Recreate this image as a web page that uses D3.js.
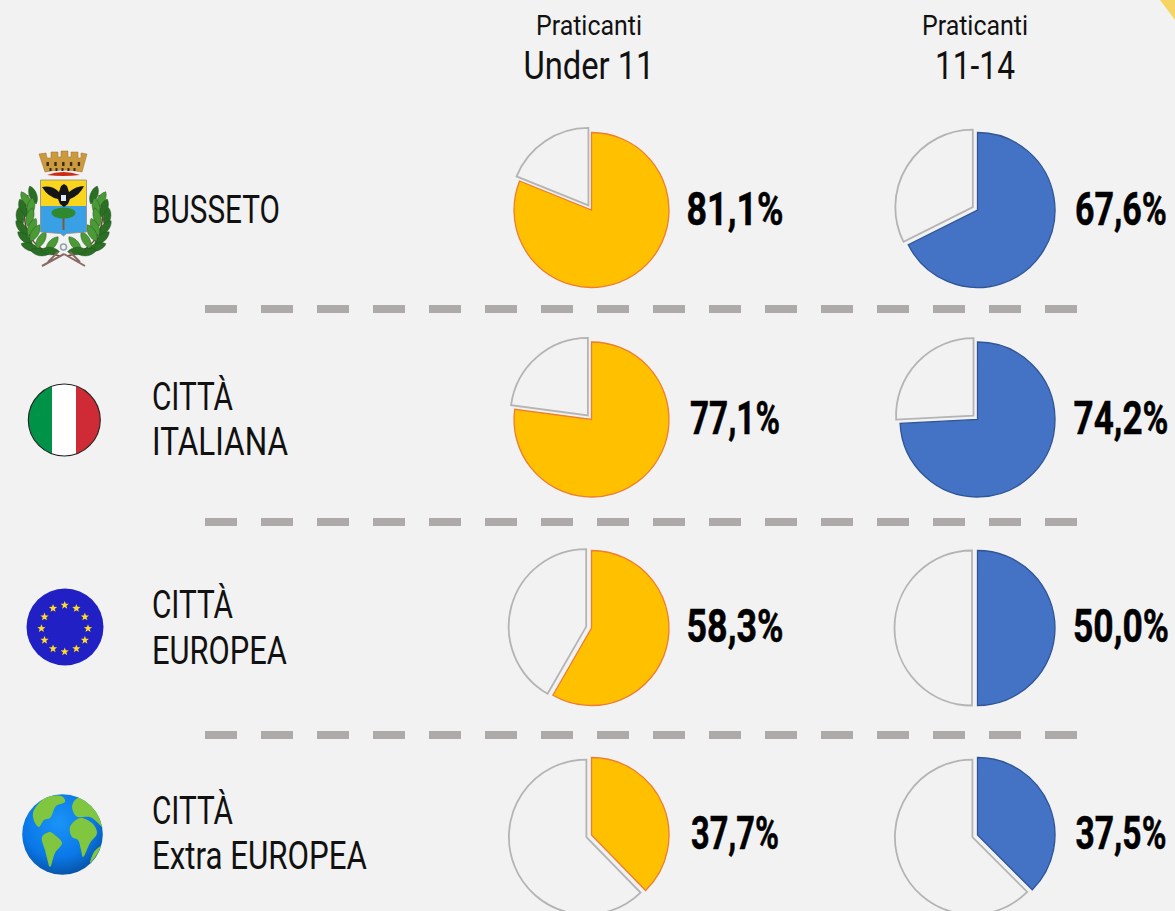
<!DOCTYPE html>
<html><head><meta charset="utf-8">
<script src="https://cdn.jsdelivr.net/npm/d3@7"></script>
<style>html,body{margin:0;padding:0;background:#f2f2f2;overflow:hidden}text{font-family:"Roboto","Noto Sans",sans-serif}</style>
</head><body><svg id="c" width="1175" height="911"></svg>
<script>
const categories=[["BUSSETO"],["CITTÀ","ITALIANA"],["CITTÀ","EUROPEA"],["CITTÀ","Extra EUROPEA"]];
const under11=[81.1,77.1,58.3,37.7];
const age1114=[67.6,74.2,50.0,37.5];
const labelsU=["81,1%","77,1%","58,3%","37,7%"];
const labelsA=["67,6%","74,2%","50,0%","37,5%"];
const headers=[["Praticanti","Under 11"],["Praticanti","11-14"]];
// layout (separate from the data)
const rowsY=[210,419.5,628,835];
const labelY=[225,434,642,849];
const widthsU=[97,90,97,88];
const widthsA=[92,95,96,91];
const headW=[[106,131],[106,80]];
const catW=[[128],[81,136],[81,135],[81,215]];
const catY=[[222.5],[410,455],[617.5,663.5],[823.5,869]];
const svg=d3.select("#c");
const defs=svg.append("defs");
svg.append("rect").attr("width",1175).attr("height",911).attr("fill","#f2f2f2");
svg.append("path").attr("d","M1160,0L1175,0L1175,20Z").attr("fill","#f5d664");
const cols=[{cx:591.5,vals:under11,labs:labelsU,w:widthsU,fill:"#ffc000",stroke:"#ed7d31",lx:735,tc:589},{cx:977.5,vals:age1114,labs:labelsA,w:widthsA,fill:"#4472c4",stroke:"#2f5597",lx:1121,tc:975}];
const R=77.5,EXP=5.5;
const pie=d3.pie().sort(null).value(d=>d);
const arc=d3.arc().innerRadius(0).outerRadius(R);
// squeeze real text to the condensed width seen in the reference
function put(x,y,size,w,str,anchor,bold){
 const t=svg.append("text").attr("font-size",size).attr("fill",bold?"#000":"#111").attr("font-weight",bold?700:400).attr("text-anchor",anchor).text(str);
 if(bold)t.attr("stroke","#000").attr("stroke-width",.5);
 const k=w/t.node().getComputedTextLength();
 t.attr("transform",`translate(${x},${y}) scale(${k},1)`);
}
cols.forEach((c,i)=>{
 put(c.tc,35,28,headW[i][0],headers[i][0],"middle");
 put(c.tc,79,38,headW[i][1],headers[i][1],"middle");
 c.vals.forEach((v,j)=>{
  const g=svg.append("g").attr("transform",`translate(${c.cx},${rowsY[j]})`);
  const a=pie([v,100-v]);
  const mid=(a[1].startAngle+a[1].endAngle)/2;
  g.append("path").attr("d",arc(a[0])).attr("fill",c.fill).attr("stroke",c.stroke).attr("stroke-width",1.3);
  g.append("path").attr("d",arc(a[1])).attr("fill","#f2f2f2").attr("stroke","#b4b4b4").attr("stroke-width",1.8)
   .attr("transform",`translate(${EXP*Math.sin(mid)},${-EXP*Math.cos(mid)})`);
  put(c.lx,labelY[j],46,c.w[j],c.labs[j],"middle",true);
 });
});
[309,522,735].forEach(y=>svg.append("line").attr("x1",205).attr("x2",1077).attr("y1",y).attr("y2",y).attr("stroke","#aeaaaa").attr("stroke-width",8).attr("stroke-dasharray","32 24"));
categories.forEach((t,j)=>t.forEach((s,k)=>put(152,catY[j][k],38,catW[j][k],s,"start")));
// Icons
function star(g,x,y,r,fill){const p=d3.range(10).map(i=>{const a=i*Math.PI/5-Math.PI/2,q=i%2?r*.42:r;return [x+q*Math.cos(a),y+q*Math.sin(a)]});g.append("polygon").attr("points",p.join(" ")).attr("fill",fill);}
// Italy
const it=svg.append("g");
defs.append("clipPath").attr("id","itc").append("circle").attr("cx",64.3).attr("cy",420).attr("r",36);
const itg=it.append("g").attr("clip-path","url(#itc)");
[["#009246",26,26],["#ffffff",52,24],["#ce2b37",76,28]].forEach(d=>itg.append("rect").attr("x",d[1]).attr("y",380).attr("width",d[2]).attr("height",80).attr("fill",d[0]));
it.append("circle").attr("cx",64.3).attr("cy",420).attr("r",36).attr("fill","none").attr("stroke","#222").attr("stroke-width",1.1);
// EU
const eu=svg.append("g");
eu.append("circle").attr("cx",65).attr("cy",627).attr("r",38.5).attr("fill","#2020c4");
d3.range(12).forEach(i=>{const a=i*Math.PI/6;star(eu,64.7+23.3*Math.sin(a),628.5-23.3*Math.cos(a),4.3,"#ffdd22")});
// Earth
const rg=defs.append("radialGradient").attr("id","eg").attr("cx","45%").attr("cy","35%").attr("r","72%");
rg.append("stop").attr("offset","0%").attr("stop-color","#1a94f6");
rg.append("stop").attr("offset","60%").attr("stop-color","#0a78e8");
rg.append("stop").attr("offset","100%").attr("stop-color","#064a96");
defs.append("clipPath").attr("id","ec").append("circle").attr("cx",62.5).attr("cy",834.5).attr("r",40.3);
const e=svg.append("g");
e.append("circle").attr("cx",62.5).attr("cy",834.5).attr("r",40.3).attr("fill","url(#eg)");
const el=e.append("g").attr("clip-path","url(#ec)").attr("fill","#80c63e");
const line=d3.line().curve(d3.curveCatmullRomClosed.alpha(.5));
[[[33,813],[42,800],[50,796],[63,797],[65,802],[56,806],[50,818],[44,820],[39,827],[35,823]],
 [[42,837],[50,832],[56,836],[62,843],[55,853],[50,867],[47,858],[45,850]],
 [[70,827],[80,818],[92,823],[97,833],[90,843],[83,857],[81,850],[78,840],[72,837]],
 [[72,807],[75,800],[83,796],[93,805],[100,817],[102,827],[98,823],[90,817],[78,817],[75,815]],
 [[101,846],[96,856],[90,863],[94,852]]].forEach(d=>el.append("path").attr("d",line(d)));
// Coat of arms
const ca=svg.append("g");
const cx0=63.5;
const leafPts=[[33,195,-20],[26,200,-30],[23,208,-20],[31,207,10],[20,217,-10],[30,217,15],[22,228,-40],[32,227,25],[25,238,-50],[35,233,30],[30,247,-70],[41,240,30],[40,252,-80],[52,244,40],[50,251,-85]];
const lg=ca.append("g");
lg.append("path").attr("d","M28,195C18,225 30,250 60,256M99,195C109,225 97,250 67,256").attr("fill","none").attr("stroke","#6a4a2a").attr("stroke-width",1.5);
const leafD="M0,-9.5C5,-5 5,5 0,9.5C-5,5 -5,-5 0,-9.5Z";
leafPts.forEach((d,i)=>{
 [1,-1].forEach(s=>{
  const x=s>0?d[0]:2*cx0-d[0];
  lg.append("path").attr("d",leafD).attr("fill",i%2?"#4a9a35":"#2b6f25").attr("stroke","#1d4d1a").attr("stroke-width",.4)
   .attr("transform",`translate(${x},${d[1]}) rotate(${s*d[2]})`);
 });
});
lg.append("path").attr("d","M64,254L42,266M64,254L85,266M58,252L48,262M70,252L80,262").attr("fill","none").attr("stroke","#8a6a62").attr("stroke-width",2);
lg.append("circle").attr("cx",63.5).attr("cy",247).attr("r",3).attr("fill","none").attr("stroke","#8fa0a8").attr("stroke-width",1.5);
// crown
ca.append("path").attr("d","M39,154L46,153L47,158L51,158L51,152L58,152L58,157L61,157L61,151L68,151L68,157L71,157L71,152L78,152L78,158L81,158L81,153L87,154L82,172Q63,168 45,172Z").attr("fill","#cb9a3f").attr("stroke","#9a6a20").attr("stroke-width",.5);
d3.range(5).forEach(i=>{ca.append("rect").attr("x",46.5+i*7.8).attr("y",162).attr("width",2.4).attr("height",4).attr("fill","#3a2a12");ca.append("rect").attr("x",49.5+i*6).attr("y",168).attr("width",2).attr("height",3).attr("fill","#3a2a12");});
ca.append("path").attr("d","M47,175Q63,169 80,175Q63,177 47,175Z").attr("fill","#cc2a12");
// shield
ca.append("rect").attr("x",40.5).attr("y",180).attr("width",46).attr("height",26).attr("fill","#fad51e");
ca.append("path").attr("d","M40.5,206h46v26l-20,1.5l-3,2.5l-3,-2.5l-20,-1.5Z").attr("fill","#3aa0e6");
ca.append("path").attr("d","M40.5,180h46v52l-20,1.5l-3,2.5l-3,-2.5l-20,-1.5Z").attr("fill","none").attr("stroke","#8a8a80").attr("stroke-width",.8);
ca.append("path").attr("d","M42,187Q52,185 59,192L61,186L64,184L67,186L69,192Q76,186 84,186Q80,195 70,199L68,204L64,207L60,204L58,199Q48,197 42,187Z").attr("fill","#151515");
ca.append("rect").attr("x",61).attr("y",195).attr("width",5).attr("height",6).attr("fill","#dfe8f4");
ca.append("rect").attr("x",62.5).attr("y",217).attr("width",2).attr("height",13).attr("fill","#7a5a3a");
ca.append("ellipse").attr("cx",63.5).attr("cy",213).attr("rx",12).attr("ry",5.5).attr("fill","#2f8a2f");
</script></body></html>
